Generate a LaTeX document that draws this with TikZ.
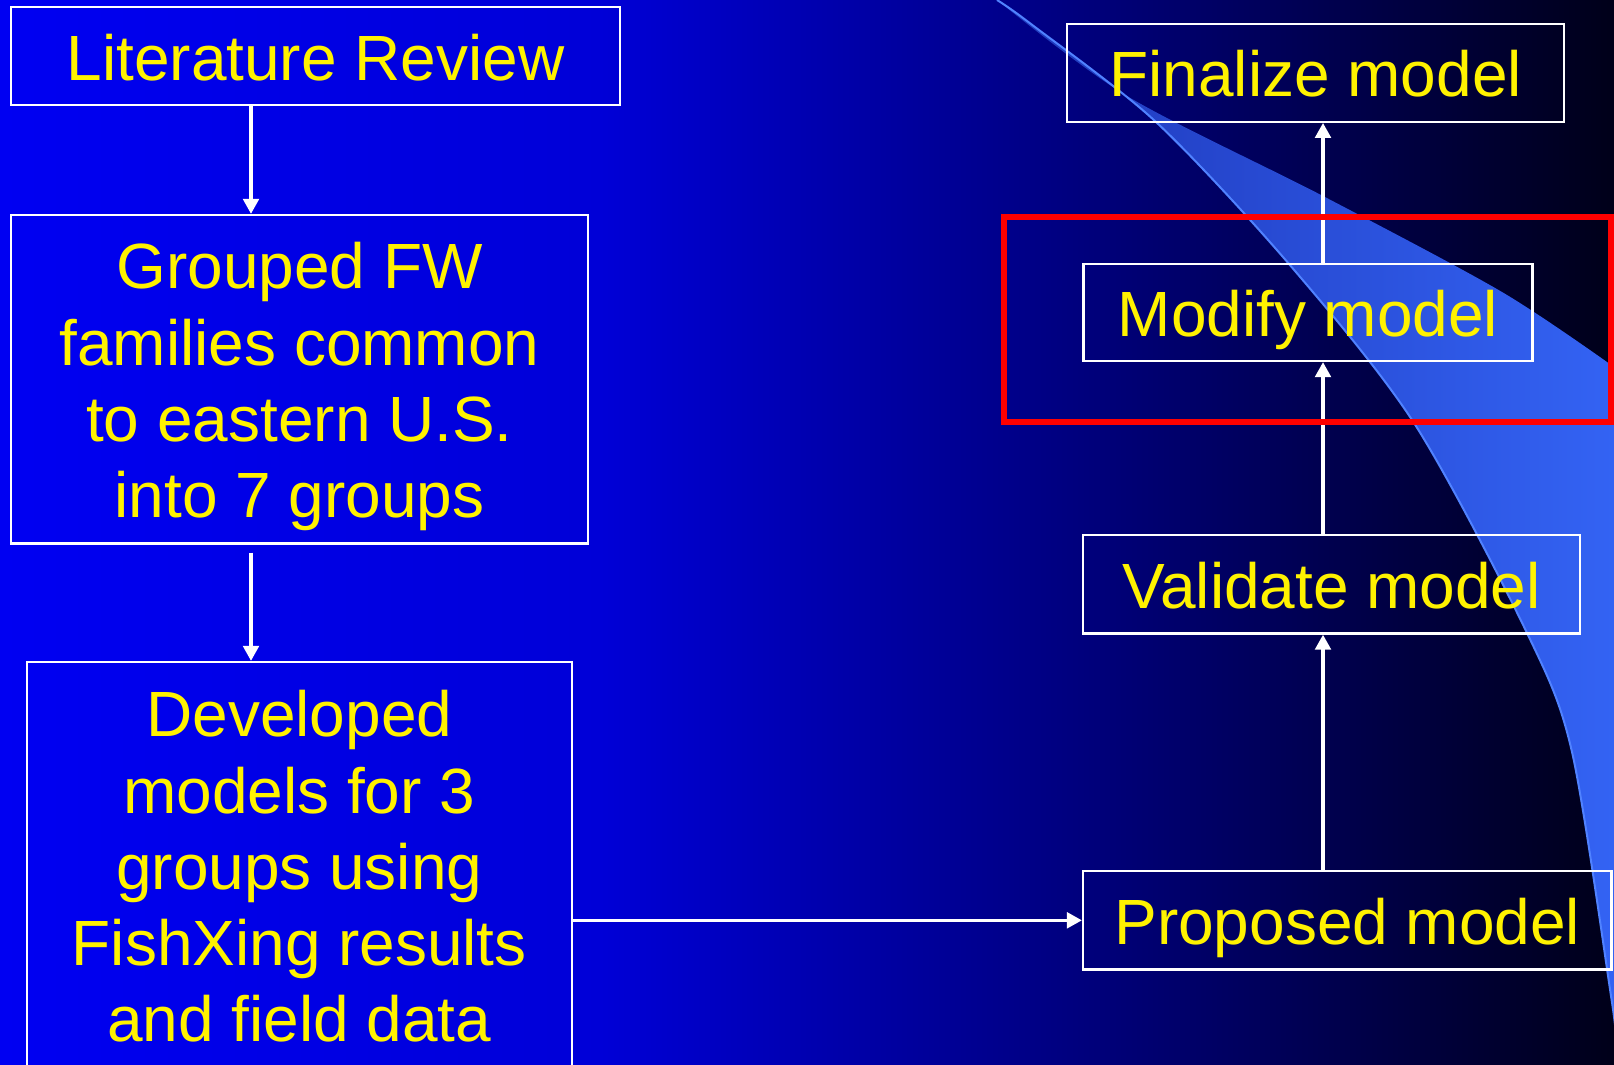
\documentclass[tikz,border=0pt]{standalone}
\usepackage{fontspec}
\setmainfont{Liberation Sans}
\usetikzlibrary{arrows.meta}
\definecolor{bgleft}{RGB}{0,0,242}
\definecolor{bgmid}{RGB}{0,0,215}
\definecolor{bgright}{RGB}{0,0,25}
\definecolor{swoopL}{RGB}{30,55,185}
\definecolor{swoopR}{RGB}{52,100,245}
\definecolor{swoopline}{RGB}{80,130,255}
\newcommand{\boxstrut}{\rule[-0.14cm]{0pt}{0.76cm}}

\begin{document}
\begin{tikzpicture}[
	box/.style={draw=white,line width=0.022cm,text=yellow,align=center,inner sep=0pt,font=\fontsize{18.2}{21.7}\selectfont},
	flow/.style={white,line width=0.035cm,-{Triangle[width=0.155cm,length=0.15cm]}}
	]
	\useasboundingbox (0,0) rectangle (16.14,10.64);
	
	%Background
	\shade[left color=bgleft,right color=bgmid] (0,0) rectangle (6.02,10.64);
	\shade[left color=bgmid,right color=bgright] (6,0) rectangle (16.14,10.64);
	
	%Swoosh
	\shade[left color=swoopL,right color=swoopR] plot[smooth] coordinates {(9.97,10.64) (10.31,10.40) (11.56,9.42) (12.89,8.00) (14.14,6.41) (15.27,4.31) (15.72,3.12) (16.11,0.68) (16.16,0.25)} -- (16.3,0.25) -- (16.3,6.94) -- plot[smooth] coordinates {(16.14,6.97) (15.02,7.72) (13.23,8.68) (11.27,9.68) (9.97,10.64)} -- cycle;
	\draw[swoopline,line width=0.02cm] plot[smooth] coordinates {(9.97,10.64) (10.31,10.40) (11.56,9.42) (12.89,8.00) (14.14,6.41) (15.27,4.31) (15.72,3.12) (16.11,0.68) (16.16,0.25)};
	
	%Left column
	\coordinate (colL) at (2.51,0);
	\node[box,minimum width=6.09cm,minimum height=.983cm] at (3.155,10.078) (lit) {\boxstrut Literature Review};
	\node[box,minimum width=5.764cm,minimum height=3.285cm] at (2.995,6.8475) (grp) {\boxstrut Grouped FW\\families common\\to eastern U.S.\\into 7 groups\boxstrut};
	\node[box,minimum width=5.45cm,minimum height=4.066cm] at (2.993,1.987) (dev) {\boxstrut Developed\\models for 3\\groups using\\FishXing results\\and field data\boxstrut};
	
	%Right column
	\coordinate (colR) at (13.23,0);
	\node[box,minimum width=5.285cm,minimum height=.985cm] at (13.473,1.437) (prop) {\boxstrut Proposed model};
	\node[box,minimum width=4.97cm,minimum height=.985cm] at (13.315,4.797) (valid) {\boxstrut Validate model};
	\node[box,minimum width=4.49cm,minimum height=.974cm] at (13.079,7.517) (mod) {\boxstrut Modify model};
	\node[box,minimum width=4.97cm,minimum height=.98cm] at (13.157,9.912) (fin) {\boxstrut Finalize model};
	
	%Arrows
	\draw[flow] (lit.south -| colL) -- (grp.north -| colL);
	\draw[flow,shorten <=0.08cm] (grp.south -| colL) -- (dev.north -| colL);
	\draw[flow] (dev.east |- prop.west) -- (prop.west);
	\draw[flow] (prop.north -| colR) -- (valid.south -| colR);
	\draw[flow] (valid.north -| colR) -- (mod.south -| colR);
	\draw[flow] (mod.north -| colR) -- (fin.south -| colR);
	
	%Highlight
	\draw[red,line width=0.06cm] (10.038,6.418) rectangle (16.11,8.474);
	
\end{tikzpicture}
\end{document}
